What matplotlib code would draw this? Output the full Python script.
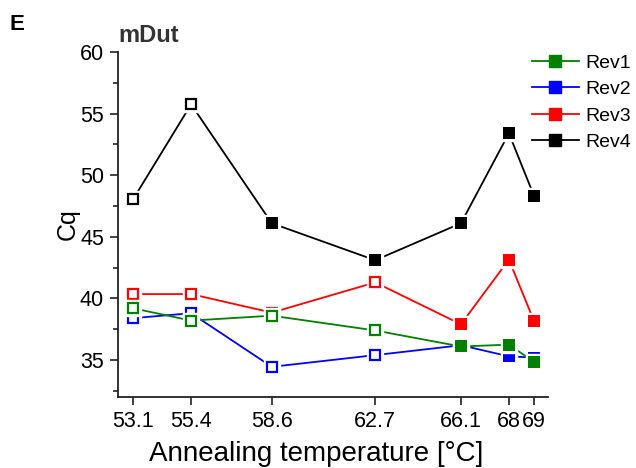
import matplotlib
matplotlib.use("Agg")
import matplotlib.pyplot as plt
from matplotlib.lines import Line2D

plt.rcParams['font.family'] = ['Liberation Sans', 'DejaVu Sans']

# annealing temperatures (deg C)
temps = [53.1, 55.4, 58.6, 62.7, 66.1, 68, 69]
tick_labels = ['53.1', '55.4', '58.6', '62.7', '66.1', '68', '69']

rev1 = [39.2, 38.2, 38.6, 37.4, 36.1, 36.25, 34.85]
rev2 = [38.4, 38.8, 34.45, 35.4, 36.2, 35.3, 35.2]
rev3 = [40.35, 40.35, 38.85, 41.3, 37.9, 43.15, 38.15]
rev4 = [48.05, 55.75, 46.1, 43.1, 46.1, 53.4, 48.3]

# which points are drawn as filled squares
filled1 = [False, False, False, False, True, True, True]
filled2 = [False, False, False, False, True, True, True]
filled3 = [False, False, False, False, True, True, True]
filled4 = [False, False, True, True, True, True, True]

series_names = ['Rev1', 'Rev2', 'Rev3', 'Rev4']
colors = ['#008000', '#0000ff', '#ff0000', '#000000']

fig = plt.figure(figsize=(6.36, 4.68), dpi=100)
ax = fig.add_axes([0.1855, 0.1517, 0.8616 - 0.1855, 0.8889 - 0.1517])

ms = 8.5


def draw_series(vals, filled, color, z):
    ax.plot(temps, vals, '-', color=color, lw=1.3, zorder=z, clip_on=False)
    # white halo so lines stop short of the markers
    ax.plot(temps, vals, 's', ms=ms + 2.4, color='white', mec='white',
            zorder=z + 0.1, clip_on=False)
    for x, y, f in zip(temps, vals, filled):
        if f:
            ax.plot(x, y, 's', ms=ms, color=color, mec=color, mew=0,
                    zorder=z + 0.2, clip_on=False)
        else:
            ax.plot(x, y, 's', ms=ms - 1.4, mfc='white', mec=color, mew=1.6,
                    zorder=z + 0.2, clip_on=False)


draw_series(rev2, filled2, colors[1], 2)
draw_series(rev3, filled3, colors[2], 3)
draw_series(rev4, filled4, colors[3], 4)
draw_series(rev1, filled1, colors[0], 5)

ax.set_xlim(52.5, 69.55)
ax.set_ylim(32, 60)
ax.set_xticks(temps)
ax.set_xticklabels(tick_labels)
ax.set_yticks([35, 40, 45, 50, 55, 60])
ax.set_yticks([32.5, 37.5, 42.5, 47.5, 52.5, 57.5], minor=True)

for side in ['top', 'right']:
    ax.spines[side].set_visible(False)
for side in ['left', 'bottom']:
    ax.spines[side].set_linewidth(1.3)
    ax.spines[side].set_color('#222222')

ax.tick_params(axis='both', which='major', direction='out', length=6,
               width=1.2, labelsize=15.5, color='#222222', pad=4)
ax.tick_params(axis='y', which='minor', direction='out', length=3.5,
               width=1.2, color='#222222')

ax.set_xlabel('Annealing temperature [°C]', fontsize=20)
ax.xaxis.set_label_coords(0.46, -0.127)
ax.set_ylabel('Cq', fontsize=18)
ax.yaxis.set_label_coords(-0.09, 0.5)

fig.text(0.186, 0.91, 'mDut', fontsize=17, fontweight='bold', color='#333333')
fig.text(0.015, 0.935, 'E', fontsize=16, fontweight='bold')

handles = [Line2D([], [], color=c, lw=1.3, marker='s', ms=ms, mec=c)
           for c in colors]
fig.legend(handles, series_names, loc='upper left',
           bbox_to_anchor=(0.836, 0.884), frameon=False, fontsize=14,
           handlelength=2.42, handletextpad=0.36, labelspacing=0.45,
           borderaxespad=0, borderpad=0)

fig.savefig('out.png', dpi=100)
